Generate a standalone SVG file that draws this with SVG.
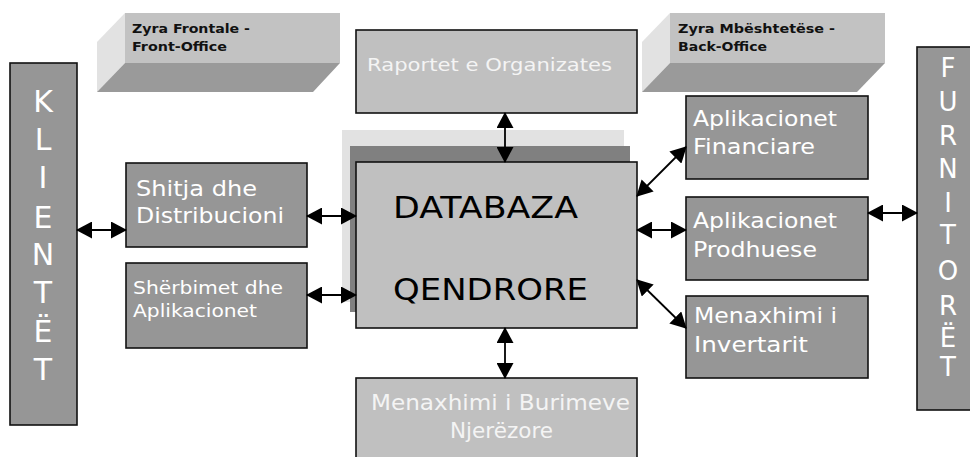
<svg xmlns="http://www.w3.org/2000/svg" width="970" height="457" viewBox="0 0 970 457">
<style>
.dark{fill:#969696;stroke:#111;stroke-width:1.6}
.light{fill:#c0c0c0;stroke:#111;stroke-width:1.6}
.t{font-family:"DejaVu Sans","Liberation Sans",sans-serif;fill:#fff}
.tl{font-family:"DejaVu Sans","Liberation Sans",sans-serif;fill:#f4f4f4}
.tz{font-family:"DejaVu Sans","Liberation Sans",sans-serif;fill:#111;font-weight:bold;font-size:12.5px}
.tb{font-family:"DejaVu Sans","Liberation Sans",sans-serif;fill:#000;font-size:31px}
.v{font-family:"DejaVu Sans","Liberation Sans",sans-serif;fill:#fff;text-anchor:middle}
.c{stroke:#000;stroke-width:1.8;fill:none;marker-start:url(#ah);marker-end:url(#ah)}
</style>
<defs>
<marker id="ah" markerUnits="userSpaceOnUse" markerWidth="17" markerHeight="17" refX="15" refY="8.5" orient="auto-start-reverse" viewBox="0 0 17 17">
<path d="M0,0 L16,8.5 L0,17 z" fill="#000"/>
</marker>
</defs>
<rect width="970" height="457" fill="#fff"/>

<g id="zyra-frontale">
<polygon points="125,13 97,42 97,92 125,63" fill="#e2e2e2"/>
<rect x="125" y="13" width="215" height="50" fill="#c2c2c2"/>
<polygon points="125,63 340,63 313,92 97,92" fill="#9a9a9a"/>
<text class="tz" x="132" y="33" textLength="118" lengthAdjust="spacingAndGlyphs">Zyra Frontale -</text>
<text class="tz" x="132" y="51" textLength="95" lengthAdjust="spacingAndGlyphs">Front-Office</text>
</g>

<g id="zyra-mbeshtetese">
<polygon points="670,13 642,42 642,92 670,63" fill="#e2e2e2"/>
<rect x="670" y="13" width="215" height="50" fill="#c2c2c2"/>
<polygon points="670,63 885,63 857,92 642,92" fill="#9a9a9a"/>
<text class="tz" x="678" y="33" textLength="157" lengthAdjust="spacingAndGlyphs">Zyra Mbështetëse -</text>
<text class="tz" x="678" y="51" textLength="89" lengthAdjust="spacingAndGlyphs">Back-Office</text>
</g>

<g id="klientet">
<rect class="dark" x="10" y="63" width="67" height="362"/>
<text class="v" font-size="30" x="43" y="112">K</text>
<text class="v" font-size="30" x="43" y="150">L</text>
<text class="v" font-size="30" x="43" y="188">I</text>
<text class="v" font-size="30" x="43" y="228">E</text>
<text class="v" font-size="30" x="43" y="265">N</text>
<text class="v" font-size="30" x="43" y="303">T</text>
<text class="v" font-size="30" x="43" y="342">Ë</text>
<text class="v" font-size="30" x="43" y="380">T</text>
</g>

<g id="furnitoret">
<rect class="dark" x="917" y="47" width="65" height="363"/>
<text class="v" font-size="26" x="948" y="77">F</text>
<text class="v" font-size="26" x="948" y="111">U</text>
<text class="v" font-size="26" x="948" y="145">R</text>
<text class="v" font-size="26" x="948" y="178">N</text>
<text class="v" font-size="26" x="948" y="212">I</text>
<text class="v" font-size="26" x="948" y="244">T</text>
<text class="v" font-size="26" x="948" y="280">O</text>
<text class="v" font-size="26" x="948" y="315">R</text>
<text class="v" font-size="26" x="948" y="347">Ë</text>
<text class="v" font-size="26" x="948" y="376">T</text>
</g>

<g id="raportet">
<rect class="light" x="356" y="30" width="281" height="83"/>
<text class="tl" font-size="18" x="367" y="71" textLength="245" lengthAdjust="spacingAndGlyphs">Raportet e Organizates</text>
</g>

<g id="databaza">
<rect x="342" y="130" width="282" height="172" fill="#e2e2e2"/>
<rect x="350" y="146" width="280" height="166" fill="#808080"/>
<rect class="light" x="356" y="162" width="281" height="166"/>
<text class="tb" x="393" y="218" textLength="185" lengthAdjust="spacingAndGlyphs">DATABAZA</text>
<text class="tb" x="393" y="300" textLength="195" lengthAdjust="spacingAndGlyphs">QENDRORE</text>
</g>

<g id="shitja">
<rect class="dark" x="126" y="163" width="181" height="84"/>
<text class="t" font-size="21" x="136" y="196" textLength="121" lengthAdjust="spacingAndGlyphs">Shitja dhe</text>
<text class="t" font-size="21" x="136" y="223" textLength="148" lengthAdjust="spacingAndGlyphs">Distribucioni</text>
</g>

<g id="sherbimet">
<rect class="dark" x="126" y="263" width="181" height="85"/>
<text class="t" font-size="18" x="133" y="294" textLength="150" lengthAdjust="spacingAndGlyphs">Shërbimet dhe</text>
<text class="t" font-size="18" x="133" y="317" textLength="124" lengthAdjust="spacingAndGlyphs">Aplikacionet</text>
</g>

<g id="financiare">
<rect class="dark" x="686" y="96" width="182" height="83"/>
<text class="t" font-size="21" x="693" y="126" textLength="144" lengthAdjust="spacingAndGlyphs">Aplikacionet</text>
<text class="t" font-size="21" x="693" y="154" textLength="122" lengthAdjust="spacingAndGlyphs">Financiare</text>
</g>

<g id="prodhuese">
<rect class="dark" x="686" y="197" width="182" height="83"/>
<text class="t" font-size="21" x="693" y="228" textLength="144" lengthAdjust="spacingAndGlyphs">Aplikacionet</text>
<text class="t" font-size="21" x="693" y="257" textLength="124" lengthAdjust="spacingAndGlyphs">Prodhuese</text>
</g>

<g id="invertarit">
<rect class="dark" x="686" y="296" width="182" height="82"/>
<text class="t" font-size="21" x="694" y="323" textLength="143" lengthAdjust="spacingAndGlyphs">Menaxhimi i</text>
<text class="t" font-size="21" x="694" y="352" textLength="114" lengthAdjust="spacingAndGlyphs">Invertarit</text>
</g>

<g id="burimeve">
<rect class="light" x="356" y="378" width="281" height="84"/>
<text class="tl" font-size="21" x="371" y="410" textLength="259" lengthAdjust="spacingAndGlyphs">Menaxhimi i Burimeve</text>
<text class="tl" font-size="21" x="450" y="438" textLength="103" lengthAdjust="spacingAndGlyphs">Njerëzore</text>
</g>

<g id="connectors">
<line class="c" x1="77" y1="230" x2="126" y2="230"/>
<line class="c" x1="307" y1="216" x2="356" y2="216"/>
<line class="c" x1="307" y1="295" x2="356" y2="295"/>
<line class="c" x1="505" y1="113" x2="505" y2="162"/>
<line class="c" x1="505" y1="328" x2="505" y2="378"/>
<line class="c" x1="637" y1="196" x2="686" y2="147"/>
<line class="c" x1="637" y1="230" x2="686" y2="230"/>
<line class="c" x1="637" y1="280" x2="686" y2="328"/>
<line class="c" x1="868" y1="213" x2="917" y2="213"/>
</g>
</svg>
